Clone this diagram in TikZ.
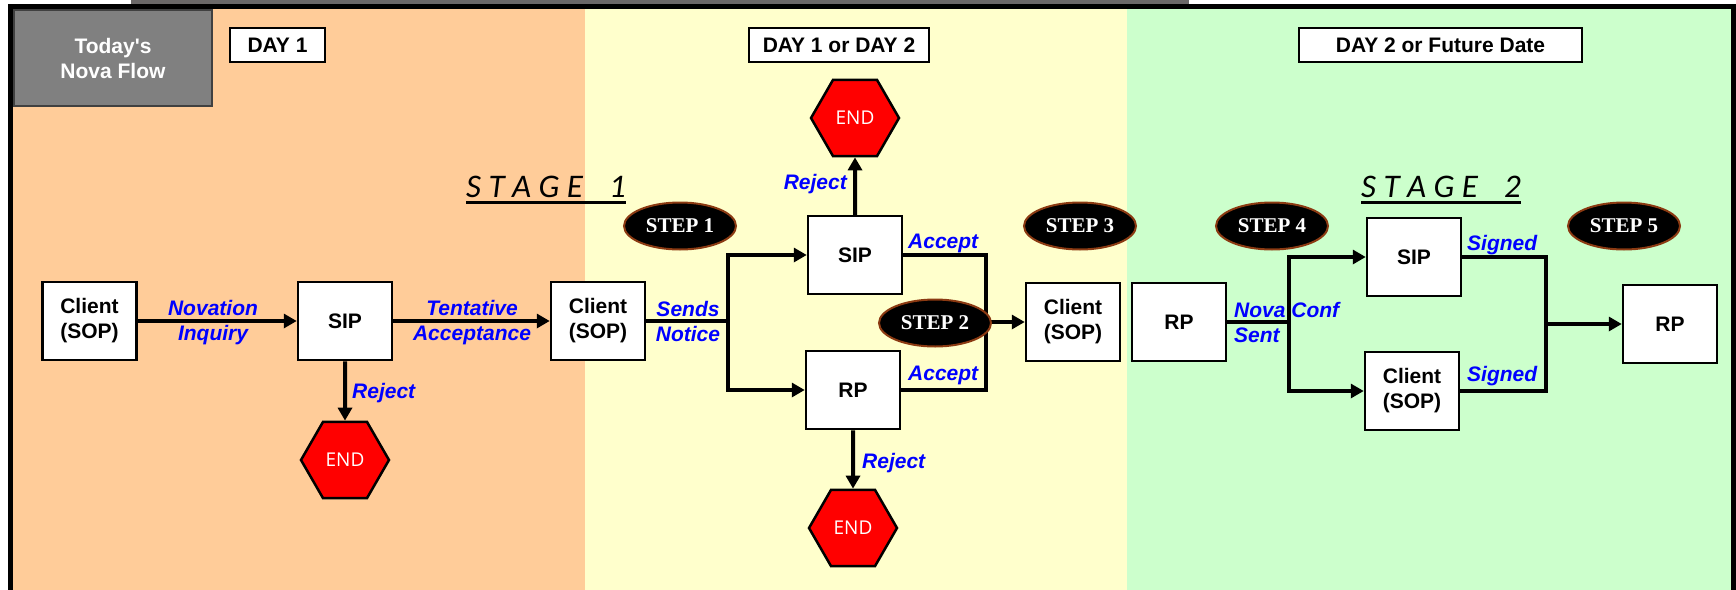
\documentclass[tikz,border=0pt]{standalone}
\usepackage{fontspec}
\setmainfont{Liberation Sans}
\newfontfamily\endfont{Open Sans}
\newfontfamily\stepfont{Liberation Serif}
\newfontfamily\stagefont{Carlito}
\usetikzlibrary{arrows.meta,shapes.geometric}
\definecolor{panelorange}{HTML}{FFCC99}
\definecolor{panelyellow}{HTML}{FFFFCC}
\definecolor{panelgreen}{HTML}{CCFFCC}
\definecolor{topbar}{HTML}{6B6868}
\definecolor{titlegrey}{HTML}{808080}
\definecolor{titleborder}{HTML}{404040}
\definecolor{stepbrown}{HTML}{8B3A12}
\definecolor{lblblue}{HTML}{0000FF}
\newcommand\boxfont{\fontsize{21}{25}\selectfont\bfseries}
\newcommand\lblfont{\fontsize{21}{25}\selectfont\bfseries\itshape}
\begin{document}
\begin{tikzpicture}[x=1pt,y=-1pt,
  box/.style={draw, line width=2.5pt, fill=white, minimum width=94pt, minimum height=78pt, inner sep=0pt, align=center, font=\boxfont},
  daybox/.style={draw, line width=2.5pt, fill=white, minimum height=34pt, inner sep=0pt, font=\boxfont},
  stepell/.style={ellipse, fill=black, draw=stepbrown, line width=2pt, minimum width=112pt, minimum height=47pt, inner sep=0pt, text=white, font=\stepfont\fontsize{21}{21}\selectfont\bfseries},
  endhex/.style={regular polygon, regular polygon sides=6, minimum size=88pt, fill=red, draw=black, line width=2.5pt, inner sep=0pt, text=white, font=\endfont\fontsize{19}{19}\selectfont},
  lbl/.style={text=lblblue, font=\lblfont, inner sep=0pt, align=center},
  stagelbl/.style={anchor=base west, inner sep=0pt, font=\stagefont\itshape\fontsize{33}{33}\selectfont},
  conn/.style={line width=4pt, line join=miter},
  arr/.style={conn, -{Triangle[length=13pt,width=14pt]}}
]
\useasboundingbox (0,0) rectangle (1736,589);
% panels
\fill[panelorange] (13,9) rectangle (585,592);
\fill[panelyellow] (585,9) rectangle (1127,592);
\fill[panelgreen] (1127,9) rectangle (1731,592);
% frame
\fill[topbar] (131,0) rectangle (1189,4);
\fill[black] (8,4) rectangle (1736,9);
\fill[black] (8,4) rectangle (13,592);
\fill[black] (1731,4) rectangle (1736,592);
% title and day boxes
\node[draw=titleborder, line width=1.5pt, fill=titlegrey, minimum width=198pt, minimum height=96pt, inner sep=0pt, text=white, font=\boxfont, align=center] (today) at (113,58) {Today\textquotesingle s\\Nova Flow};
\node[daybox, minimum width=95pt] (day1) at (277.5,45) {DAY 1};
\node[daybox, minimum width=180pt] (day12) at (839,45) {DAY 1 or DAY 2};
\node[daybox, minimum width=283pt] (day2f) at (1440.5,45) {DAY 2 or Future Date};
% stage labels
\node[stagelbl] (stage1) at (466,197) {S T A G E\hspace{26pt}1};
\draw[line width=3pt] ([yshift=-5.5pt]stage1.base west) -- ([yshift=-5.5pt]stage1.base east);
\node[stagelbl] (stage2) at (1361,197) {S T A G E\hspace{26pt}2};
\draw[line width=3pt] ([yshift=-5.5pt]stage2.base west) -- ([yshift=-5.5pt]stage2.base east);
% boxes
\node[box] (c1) at (89.5,321) {Client\\(SOP)};
\node[box] (sip1) at (345,321) {SIP};
\node[box] (c2) at (598,321) {Client\\(SOP)};
\node[box] (sip2) at (855,255) {SIP};
\node[box] (rp2) at (853,390) {RP};
\node[box] (c3) at (1073,322) {Client\\(SOP)};
\node[box] (rp3) at (1179,322) {RP};
\node[box] (sip4) at (1414,257) {SIP};
\node[box] (c5) at (1412,391) {Client\\(SOP)};
\node[box] (rp6) at (1670,324) {RP};
% end nodes
\node[endhex] (end1) at (345,460) {END};
\node[endhex] (end2) at (855,118) {END};
\node[endhex] (end3) at (853,528) {END};
% steps (not overlapping lines)
\node[stepell] (step1) at (680,226) {STEP 1};
\node[stepell] (step3) at (1080,226) {STEP 3};
\node[stepell] (step4) at (1272,226) {STEP 4};
\node[stepell] (step5) at (1624,226) {STEP 5};
% junction coordinates
\coordinate (j1) at (727.5,321);
\coordinate (m1) at (986,322);
\coordinate (j2) at (1288.5,322);
\coordinate (m2) at (1546,324);
% connectors
\draw[arr] (c1.east) -- (sip1.west);
\draw[arr] (sip1.east) -- (c2.west);
\draw[arr] (sip1.south) -- (end1.north);
\draw[conn] (c2.east) -- (j1);
\draw[arr] (j1) |- (sip2.west);
\draw[arr] (j1) |- (rp2.west);
\draw[arr] (sip2.north) -- (end2.south);
\draw[arr] (rp2.south) -- (end3.north);
\draw[conn] (sip2.east) -| (m1);
\draw[conn] (rp2.east) -| (m1);
\draw[arr] (m1) -- (c3.west);
\draw[conn] (rp3.east) -- (j2);
\draw[arr] (j2) |- (sip4.west);
\draw[arr] (j2) |- (c5.west);
\draw[conn] (sip4.east) -| (m2);
\draw[conn] (c5.east) -| (m2);
\draw[arr] (m2) -- (rp6.west);
% step 2 over the merge
\node[stepell] (step2) at (935,323) {STEP 2};
% labels
\node[lbl] (lnov) at (213,323) {Novation\\Inquiry};
\node[lbl] (ltent) at (472,323) {Tentative\\Acceptance};
\node[lbl, anchor=west] (lrej1) at (352,393) {Reject};
\node[lbl] (lsend) at (688,321) {Sends\\Notice};
\node[lbl, anchor=east] (lrej2) at (847,184) {Reject};
\node[lbl, anchor=west] (lrej3) at (862,463) {Reject};
\node[lbl, anchor=west] (lacc1) at (908,243) {Accept};
\node[lbl, anchor=west] (lacc2) at (908,375) {Accept};
\node[lbl, anchor=west, align=left] (lnova) at (1234,322.5) {Nova Conf\\Sent};
\node[lbl, anchor=west] (lsig1) at (1467,245) {Signed};
\node[lbl, anchor=west] (lsig2) at (1467,376) {Signed};
\end{tikzpicture}
\end{document}
